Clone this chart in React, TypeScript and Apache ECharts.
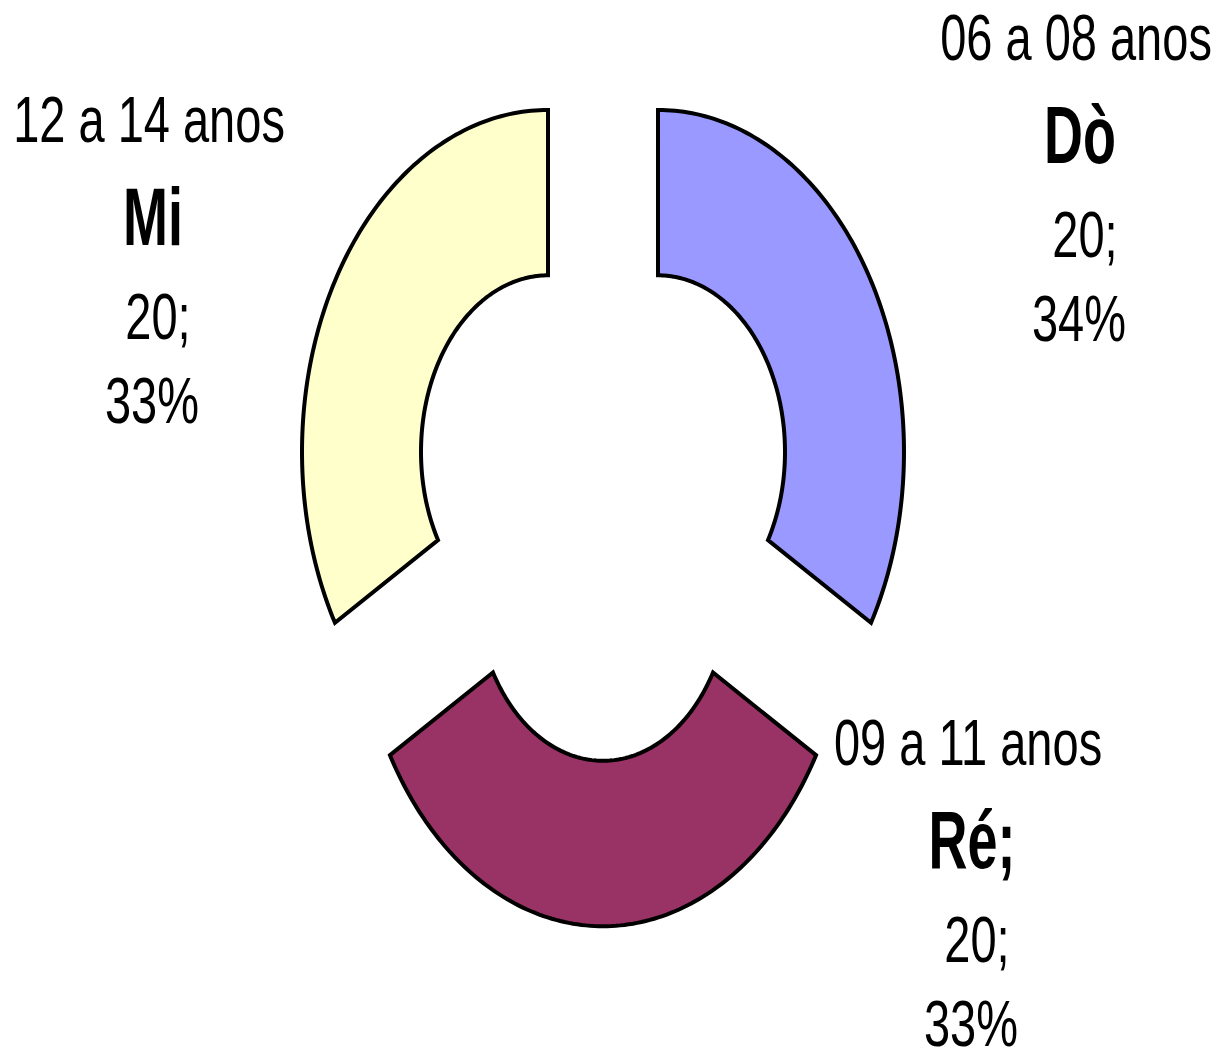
import React, { useEffect, useRef } from "react";
import * as echarts from "echarts";

// ---- data ----
const categories = ["Dò", "Ré;", "Mi"];
const ageRanges = ["06 a 08 anos", "09 a 11 anos", "12 a 14 anos"];
const values = [20, 20, 20];
const percentLabels = ["34%", "33%", "33%"];
const colors = ["#9999FF", "#993366", "#FFFFCC"];

// ---- layout ----
const CENTER_X = 603;
const CENTER_Y = 496;
const R_OUT = 246;
const R_IN = 127;
const EXPLODE = 63.5;
const STRETCH = 1.39;
// anchor of each label block: x center of bold line, y center of first line
const labelAnchors = [
  [1080, 38],
  [972, 743],
  [153, 120],
];
const lineDy = [0, 97, 197, 281];
const lineDx = [-4, 0, 5, -1];
const FONT = "'Liberation Sans', Arial, sans-serif";

export default function App() {
  const ref = useRef<HTMLDivElement>(null);
  useEffect(() => {
    document.body.style.margin = "0";
    if (!ref.current) return;
    const chart = echarts.init(ref.current, null, { renderer: "svg" });
    const total = values.reduce((a, b) => a + b, 0);

    const renderItem = (params: any, api: any) => {
      const i = params.dataIndex;
      const v = api.value(0);
      let before = 0;
      for (let j = 0; j < i; j++) before += values[j];
      const a0 = -Math.PI / 2 + (2 * Math.PI * before) / total;
      const a1 = a0 + (2 * Math.PI * v) / total;
      const mid = (a0 + a1) / 2;
      const ox = EXPLODE * Math.cos(mid);
      const oy = EXPLODE * Math.sin(mid);
      const N = 120;
      const pts: number[][] = [];
      for (let k = 0; k <= N; k++) {
        const a = a0 + ((a1 - a0) * k) / N;
        pts.push([CENTER_X + ox + R_OUT * Math.cos(a), CENTER_Y + STRETCH * (oy + R_OUT * Math.sin(a))]);
      }
      for (let k = N; k >= 0; k--) {
        const a = a0 + ((a1 - a0) * k) / N;
        pts.push([CENTER_X + ox + R_IN * Math.cos(a), CENTER_Y + STRETCH * (oy + R_IN * Math.sin(a))]);
      }
      const [ax, ay] = labelAnchors[i];
      const lines = [ageRanges[i], categories[i], `${v};`, percentLabels[i]];
      const texts = lines.map((t, li) => ({
        type: "text",
        x: ax + lineDx[li],
        y: ay + lineDy[li],
        scaleY: li === 1 ? 1.5 : 1.37,
        style: {
          text: t,
          fontSize: li === 1 ? 54 : 47,
          fontWeight: li === 1 ? "bold" : "normal",
          fontFamily: FONT,
          fill: "#000",
          align: "center",
          verticalAlign: "middle",
        },
      }));
      return {
        type: "group",
        children: [
          {
            type: "polygon",
            shape: { points: pts },
            style: { fill: colors[i], stroke: "#000", lineWidth: 4, lineJoin: "miter" },
          },
          ...texts,
        ],
      };
    };

    chart.setOption({
      animation: false,
      backgroundColor: "#fff",
      series: [
        {
          type: "custom",
          coordinateSystem: "none",
          silent: true,
          renderItem,
          data: values.map((v) => [v]),
        },
      ],
    });
    return () => chart.dispose();
  }, []);
  return <div ref={ref} style={{ width: 1221, height: 1050 }} />;
}
